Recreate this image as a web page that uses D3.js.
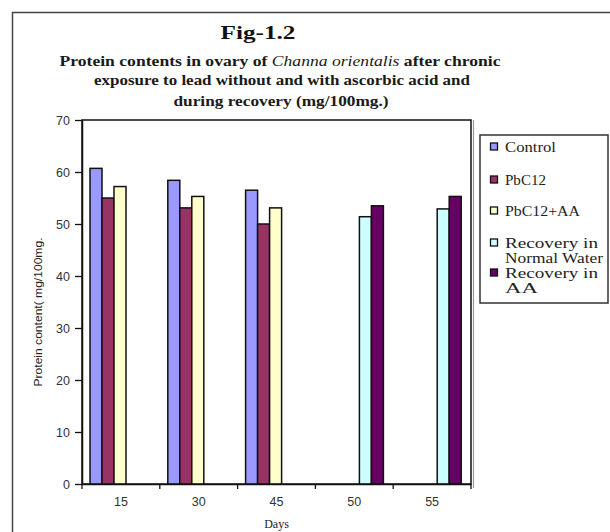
<!DOCTYPE html>
<html><head><meta charset="utf-8">
<script src="https://cdn.jsdelivr.net/npm/d3@7"></script>
<style>body{margin:0;background:#fff;} svg{display:block;}</style>
</head><body>
<svg id="c" width="610" height="532"></svg>
<script>
const categories = ["15","30","45","50","55"];
const seriesNames = ["Control","PbC12","PbC12+AA","Recovery in Normal Water","Recovery in AA"];
const seriesColors = ["#9999FF","#993366","#FFFFCC","#CCFFFF","#660066"];
const control   = [60.7, 58.4, 56.5, null, null];
const pbcl2     = [55.0, 53.1, 50.0, null, null];
const pbcl2AA   = [57.2, 55.3, 53.1, null, null];
const recWater  = [null, null, null, 51.4, 52.9];
const recAA     = [null, null, null, 53.5, 55.3];
const yTicks = [0,10,20,30,40,50,60,70];
const seriesValues = [control, pbcl2, pbcl2AA, recWater, recAA];

const svg = d3.select("#c");
const L = 82, R = 471, T = 120, B = 484;

// outer frame
svg.append("path").attr("d","M12.5,540 V12.5 H620").attr("fill","none").attr("stroke","#444").attr("stroke-width",1.5);

// title
const serif = "'Liberation Serif','Times New Roman',serif";
svg.append("text").attr("x",258).attr("y",39).attr("text-anchor","middle")
  .attr("font-family",serif).attr("font-weight","bold").attr("font-size",19).attr("fill","#111")
  .attr("textLength",75).attr("lengthAdjust","spacingAndGlyphs").text("Fig-1.2");
const t2 = svg.append("text").attr("x",280).attr("y",66).attr("text-anchor","middle")
  .attr("font-family",serif).attr("font-weight","bold").attr("font-size",15).attr("fill","#1a1a1a")
  .attr("textLength",441).attr("lengthAdjust","spacingAndGlyphs");
t2.append("tspan").text("Protein contents  in ovary of ");
t2.append("tspan").attr("font-style","italic").attr("font-weight","normal").text("Channa orientalis");
t2.append("tspan").text(" after chronic");
svg.append("text").attr("x",282).attr("y",85).attr("text-anchor","middle")
  .attr("font-family",serif).attr("font-weight","bold").attr("font-size",15).attr("fill","#1a1a1a")
  .attr("textLength",376).attr("lengthAdjust","spacingAndGlyphs")
  .text("exposure to lead without and with ascorbic acid and");
svg.append("text").attr("x",281).attr("y",106).attr("text-anchor","middle")
  .attr("font-family",serif).attr("font-weight","bold").attr("font-size",15).attr("fill","#1a1a1a")
  .attr("textLength",215).attr("lengthAdjust","spacingAndGlyphs")
  .text("during recovery (mg/100mg.)");

// scales
const x = d3.scaleBand().domain(categories).range([L, R]).padding(0);
const xs = d3.scaleBand().domain(d3.range(seriesNames.length)).range([8, 68]).padding(0);
const y = d3.scaleLinear().domain([0,70]).range([B, T]);

// plot frame
svg.append("rect").attr("x",L).attr("y",T).attr("width",R-L).attr("height",B-T)
  .attr("fill","#fff").attr("stroke","#111").attr("stroke-width",1.5);
svg.append("line").attr("x1",R+2.5).attr("x2",R+2.5).attr("y1",T).attr("y2",B+4)
  .attr("stroke","#999").attr("stroke-width",1.2);

// bars
seriesValues.forEach((vals, si) => {
  svg.append("g").selectAll("rect")
    .data(categories.map((c,i)=>({c, v: vals[i]})).filter(d => d.v != null))
    .join("rect")
    .attr("x", d => x(d.c) + xs(si))
    .attr("y", d => y(d.v))
    .attr("width", xs.bandwidth())
    .attr("height", d => y(0) - y(d.v))
    .attr("fill", seriesColors[si])
    .attr("stroke","#111").attr("stroke-width",1.5);
});

// y axis
const yAxis = svg.append("g").attr("transform",`translate(${L},0)`)
  .call(d3.axisLeft(y).tickValues(yTicks).tickSize(7).tickSizeOuter(0).tickPadding(5));
yAxis.select(".domain").attr("stroke","#111").attr("stroke-width",1.5);
yAxis.selectAll(".tick line").attr("stroke","#111").attr("stroke-width",1.3);
yAxis.selectAll("text").attr("font-family","'Liberation Sans',Arial,sans-serif").attr("font-size",12.5).attr("fill","#333");

// x axis
const xAxis = svg.append("g").attr("transform",`translate(0,${B})`)
  .call(d3.axisBottom(x).tickSize(0).tickPadding(13));
xAxis.select(".domain").attr("stroke","#111").attr("stroke-width",1.5);
xAxis.selectAll("text").attr("font-family","'Liberation Sans',Arial,sans-serif").attr("font-size",12.5).attr("fill","#333");
const bounds = categories.map(c => x(c)).concat([R]);
svg.append("g").selectAll("line").data(bounds).join("line")
  .attr("x1",d=>d).attr("x2",d=>d).attr("y1",B).attr("y2",B+5)
  .attr("stroke","#111").attr("stroke-width",1.3);

// axis titles
svg.append("text").attr("x",(L+R)/2).attr("y",528).attr("text-anchor","middle")
  .attr("font-family",serif).attr("font-size",12).attr("fill","#222").text("Days");
svg.append("text").attr("transform","translate(42,312) rotate(-90)").attr("text-anchor","middle")
  .attr("font-family","'Liberation Sans Narrow','Arial Narrow','Liberation Sans',sans-serif")
  .attr("font-size",11.5).attr("fill","#222")
  .attr("textLength",149).attr("lengthAdjust","spacingAndGlyphs")
  .text("Protein content( mg/100mg.");

// legend
svg.append("rect").attr("x",480).attr("y",135).attr("width",128).attr("height",168)
  .attr("fill","#fff").attr("stroke","#333").attr("stroke-width",1.5);
const legendLines = [["Control"],["PbC12"],["PbC12+AA"],["Recovery in","Normal Water"],["Recovery in","AA"]];
const legendY = [147, 180, 211, 243, 273];
const lineWidths = {"Control":51,"PbC12":41,"PbC12+AA":75,"Recovery in":93,"Normal Water":98,"AA":33};
legendLines.forEach((lines, i) => {
  svg.append("rect").attr("x",490.5).attr("y",legendY[i]-4).attr("width",7).attr("height",7)
    .attr("fill",seriesColors[i]).attr("stroke","#111").attr("stroke-width",1.3);
  lines.forEach((ln, j) => {
    svg.append("text").attr("x",505).attr("y",legendY[i]+5+j*15)
      .attr("font-family",serif).attr("font-size",15).attr("fill","#222")
      .attr("textLength",lineWidths[ln]).attr("lengthAdjust","spacingAndGlyphs").text(ln);
  });
});
</script>
</body></html>
